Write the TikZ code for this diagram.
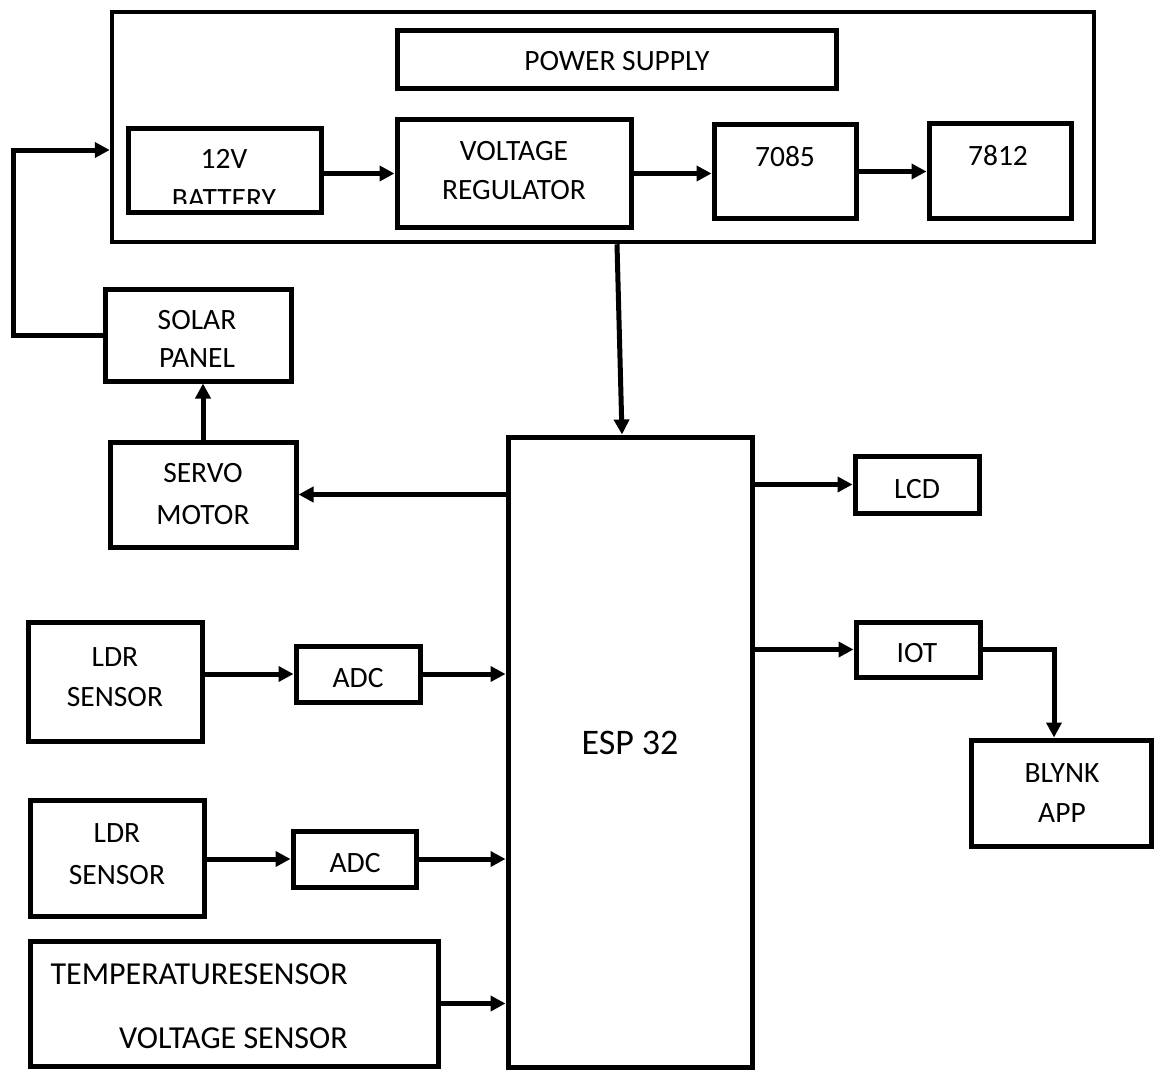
\documentclass[tikz,border=0pt]{standalone}
\usepackage{fontspec}
\setmainfont{Carlito}
\usetikzlibrary{arrows.meta,calc}
\begin{document}
\begin{tikzpicture}[x=1pt,y=-1pt,
  box/.style={draw, line width=5pt, inner sep=0pt},
  thinbox/.style={draw, line width=4.5pt, inner sep=0pt},
  txt/.style={inner sep=0pt, text height=19pt, text depth=0pt, font=\fontsize{29.5}{35}\selectfont},
  midtxt/.style={inner sep=0pt, text height=20.5pt, text depth=0pt, font=\fontsize{32}{38}\selectfont},
  bigtxt/.style={inner sep=0pt, text height=23.2pt, text depth=0pt, font=\fontsize{36}{43}\selectfont},
  arr/.style={line width=5pt, -{Triangle[length=15pt,width=15pt]}}]
\useasboundingbox (0,0) rectangle (1156,1070);
% power supply block
\node[thinbox, minimum width=982pt, minimum height=230pt] (pow) at (603,127) {};
\node[box, minimum width=439pt, minimum height=58pt] (ps) at (616.5,60) {};
\node[txt] (tps) at (617,61) {POWER SUPPLY};
\node[box, minimum width=193pt, minimum height=83pt] (bat) at (224.5,170.5) {};
\node[txt] (tbat1) at (224,159) {12V};
\begin{scope}
  \clip (130,130) rectangle (320,203);
  \node[txt] (tbat2) at (224,199) {BATTERY};
\end{scope}
\node[box, minimum width=234pt, minimum height=107pt] (vr) at (514,173.5) {};
\node[txt] (tvr1) at (514,151) {VOLTAGE};
\node[txt] (tvr2) at (514,190) {REGULATOR};
\node[box, minimum width=142pt, minimum height=93pt] (b7085) at (785,171.5) {};
\node[txt] (t7085) at (785,157) {7085};
\node[box, minimum width=142pt, minimum height=94pt] (b7812) at (1000,171) {};
\node[txt] (t7812) at (998,156) {7812};
% left side
\node[box, minimum width=186pt, minimum height=92pt] (solar) at (198,335) {};
\node[txt] (tsol1) at (197,320) {SOLAR};
\node[txt] (tsol2) at (197,358) {PANEL};
\node[box, minimum width=186pt, minimum height=105pt] (servo) at (203,494.5) {};
\node[txt] (tser1) at (203,473) {SERVO};
\node[txt] (tser2) at (203,515) {MOTOR};
% ESP32
\node[box, minimum width=244pt, minimum height=630pt] (esp) at (630,752) {};
\node[bigtxt] (tesp) at (630,743) {ESP 32};
% right side
\node[box, minimum width=124pt, minimum height=57pt] (lcd) at (917,484.5) {};
\node[txt] (tlcd) at (917,489) {LCD};
\node[box, minimum width=124pt, minimum height=55pt] (iot) at (918,649.5) {};
\node[txt] (tiot) at (917,653) {IOT};
\node[box, minimum width=180pt, minimum height=106pt] (blynk) at (1061,793) {};
\node[txt] (tbl1) at (1062,773) {BLYNK};
\node[txt] (tbl2) at (1062,813) {APP};
% sensors
\node[box, minimum width=174pt, minimum height=119pt] (ldr1) at (115,681.5) {};
\node[txt] (tl11) at (115,657) {LDR};
\node[txt] (tl12) at (115,697) {SENSOR};
\node[box, minimum width=124pt, minimum height=56pt] (adc1) at (358,674) {};
\node[txt] (ta1) at (358,678) {ADC};
\node[box, minimum width=174pt, minimum height=116pt] (ldr2) at (117,858) {};
\node[txt] (tl21) at (117,833) {LDR};
\node[txt] (tl22) at (117,875) {SENSOR};
\node[box, minimum width=123pt, minimum height=56pt] (adc2) at (354.5,859) {};
\node[txt] (ta2) at (355,863) {ADC};
\node[box, minimum width=408pt, minimum height=125pt] (temp) at (234,1003.5) {};
\node[midtxt, anchor=east] (tt1) at (348,974) {TEMPERATURESENSOR};
\node[midtxt, anchor=east] (tt2) at (348,1038) {VOLTAGE SENSOR};
% connectors
\draw[arr] (vr.west -| bat.east) -- (vr.west);
\draw[arr] (vr.east) -- (vr.east -| b7085.west);
\draw[arr] (b7085.east) -- (b7085.east -| b7812.west);
\coordinate (lx) at (13,0);
\coordinate (ly) at (0,150);
\draw[arr] (solar.west) -- (solar.west -| lx) -- (lx |- ly) -- (pow.west |- ly);
\draw[arr] (servo.north) -- (servo.north |- solar.south);
\draw[arr] (esp.west |- servo.east) -- (servo.east);
\draw[arr] ($(pow.south)+(14,0)$) -- ($(esp.north)+(-8,0)$);
\draw[arr] (esp.east |- lcd.west) -- (lcd.west);
\draw[arr] (esp.east |- iot.west) -- (iot.west);
\draw[arr] (iot.east) -| ($(blynk.north)+(-7,0)$);
\draw[arr] (adc1.west -| ldr1.east) -- (adc1.west);
\draw[arr] (adc1.east) -- (adc1.east -| esp.west);
\draw[arr] (adc2.west -| ldr2.east) -- (adc2.west);
\draw[arr] (adc2.east) -- (adc2.east -| esp.west);
\draw[arr] (temp.east) -- (temp.east -| esp.west);
\end{tikzpicture}
\end{document}
